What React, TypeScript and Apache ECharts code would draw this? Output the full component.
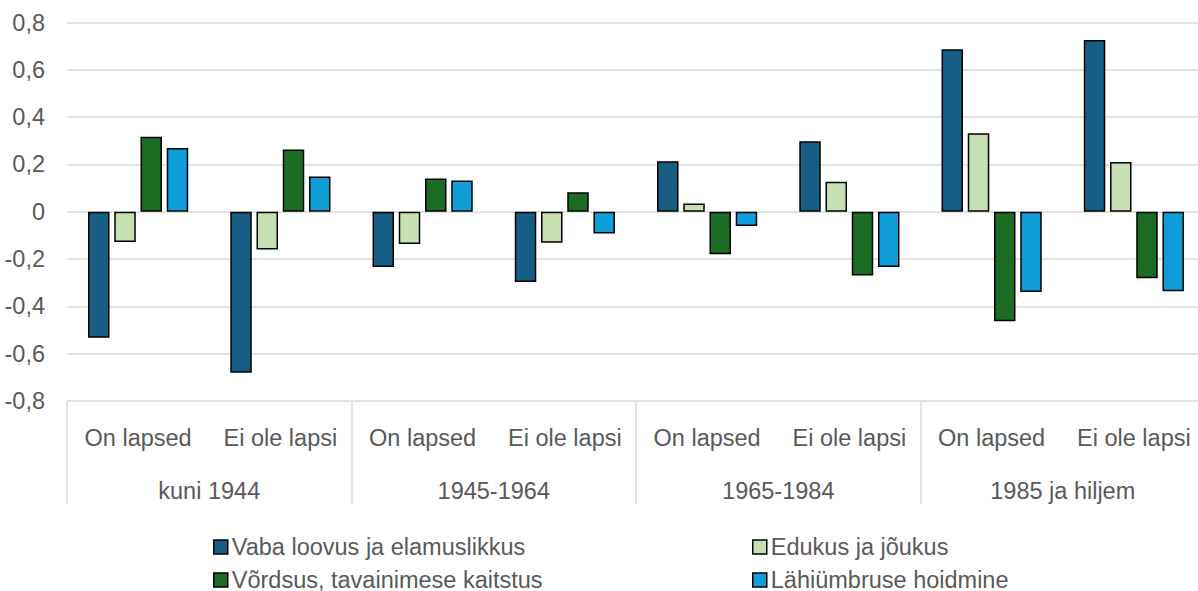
import React, { useEffect, useRef } from "react";
import * as echarts from "echarts";

const subCategories = ["On lapsed", "Ei ole lapsi", "On lapsed", "Ei ole lapsi", "On lapsed", "Ei ole lapsi", "On lapsed", "Ei ole lapsi"];
const groups = ["kuni 1944", "1945-1964", "1965-1984", "1985 ja hiljem"];

const seriesNames = [
  "Vaba loovus ja elamuslikkus",
  "Edukus ja jõukus",
  "Võrdsus, tavainimese kaitstus",
  "Lähiümbruse hoidmine",
];
const vaba = [-0.533, -0.681, -0.234, -0.297, 0.214, 0.298, 0.687, 0.726];
const edukus = [-0.128, -0.16, -0.136, -0.131, 0.035, 0.127, 0.332, 0.21];
const vordsus = [0.317, 0.263, 0.141, 0.082, -0.18, -0.269, -0.463, -0.281];
const lahi = [0.27, 0.149, 0.132, -0.092, -0.06, -0.234, -0.339, -0.336];
const colors = ["#165E83", "#C6E0B4", "#1C6B23", "#0F9ED8"];

const FONT = "Liberation Sans, Arial, sans-serif";
const TEXT = "#595959";
const FS = 23.5;

export default function App() {
  const ref = useRef<HTMLDivElement>(null);
  useEffect(() => {
    if (!ref.current) return;
    const chart = echarts.init(ref.current, undefined, { renderer: "svg" });
    const values = [vaba, edukus, vordsus, lahi];
    const legendPos = [
      { left: 208, top: 530 },
      { left: 747, top: 530 },
      { left: 208, top: 563 },
      { left: 747, top: 563 },
    ];
    chart.setOption({
      animation: false,
      textStyle: { fontFamily: FONT },
      grid: { left: 67, right: 0, top: 22.5, height: 378.5, containLabel: false },
      legend: seriesNames.map((n, i) => ({
        data: [n],
        left: legendPos[i].left,
        top: legendPos[i].top,
        itemWidth: 14,
        itemHeight: 14,
        icon: "rect",
        itemStyle: { borderColor: "#000", borderWidth: 1.5 },
        textStyle: { color: TEXT, fontSize: FS, fontFamily: FONT, lineHeight: 20, padding: [0, 0, 0, -1] },
        selectedMode: false,
      })),
      xAxis: [
        {
          type: "category",
          data: subCategories,
          position: "bottom",
          axisLine: { show: false },
          axisTick: { show: false },
          axisLabel: { color: TEXT, fontSize: FS, fontFamily: FONT, margin: 25, interval: 0 },
        },
        {
          type: "category",
          data: groups,
          position: "bottom",
          axisLine: { show: false },
          axisTick: { show: true, length: 103, interval: 0, lineStyle: { color: "#d9d9d9", width: 1.5 } },
          axisLabel: { color: TEXT, fontSize: FS, fontFamily: FONT, margin: 78, interval: 0 },
        },
      ],
      yAxis: {
        type: "value",
        min: -0.8,
        max: 0.8,
        interval: 0.2,
        axisLine: { show: false },
        axisTick: { show: false },
        splitLine: { lineStyle: { color: "#d9d9d9", width: 1.5 } },
        axisLabel: {
          color: TEXT,
          fontSize: FS,
          fontFamily: FONT,
          margin: 22,
          formatter: (v: number) => {
            const r = Math.round(v * 10) / 10;
            if (r === 0) return "0";
            return r.toFixed(1).replace(".", ",");
          },
        },
      },
      series: seriesNames.map((n, i) => ({
        name: n,
        type: "bar",
        xAxisIndex: 0,
        data: values[i],
        barWidth: 21.5,
        barGap: "22%",
        itemStyle: { color: colors[i], borderColor: "#000", borderWidth: 1.5 },
      })),
    });
    return () => chart.dispose();
  }, []);
  return (
    <div style={{ position: "fixed", left: 0, top: 0, width: 1198, height: 591, overflow: "hidden", background: "#fff" }}>
      <div ref={ref} style={{ width: 1205, height: 591 }} />
    </div>
  );
}
